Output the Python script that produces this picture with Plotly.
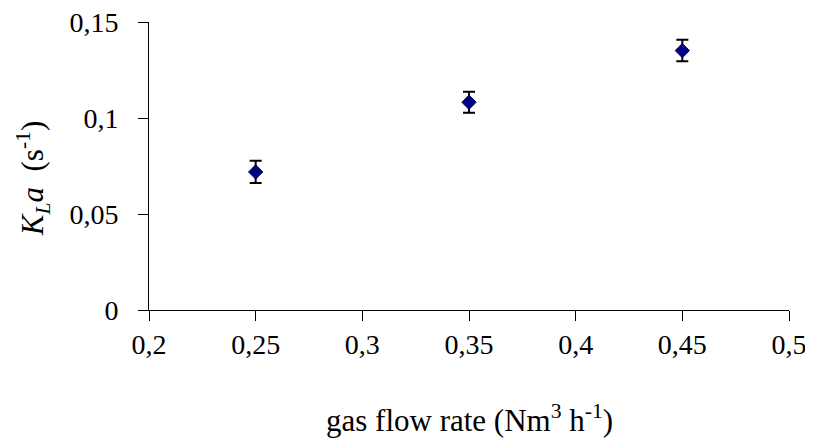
import plotly.graph_objects as go

gas_flow = [0.25, 0.35, 0.45]
kla = [0.0719, 0.1082, 0.1351]
kla_err = [0.0058, 0.0055, 0.0056]

x_tickvals = [0.2, 0.25, 0.3, 0.35, 0.4, 0.45, 0.5]
x_ticktext = ["0,2", "0,25", "0,3", "0,35", "0,4", "0,45", "0,5"]
y_tickvals = [0, 0.05, 0.1, 0.15]
y_ticktext = ["0", "0,05", "0,1", "0,15"]

FONT = "Liberation Serif"
TICK_SIZE = 28
TITLE_SIZE = 31

fig = go.Figure()
fig.add_trace(go.Scatter(
    x=gas_flow, y=kla, mode="markers",
    marker=dict(symbol="diamond", size=11, color="#000080",
                line=dict(color="#00005a", width=1)),
    error_y=dict(type="data", array=kla_err, visible=True,
                 color="black", thickness=2, width=6),
    showlegend=False,
))

axis_common = dict(showgrid=False, zeroline=False, showline=True, linecolor="black",
                   linewidth=1, ticks="outside", ticklen=10, tickcolor="black",
                   tickwidth=1, automargin=False, ticklabeloverflow="allow",
                   tickfont=dict(family=FONT, size=TICK_SIZE, color="black"))

fig.update_layout(
    width=805, height=434,
    margin=dict(l=141, r=24, t=14, b=132, pad=0),
    paper_bgcolor="white", plot_bgcolor="white",
    font=dict(family=FONT, size=TICK_SIZE, color="black"),
    xaxis=dict(range=[0.2, 0.5], tickvals=x_tickvals, ticktext=x_ticktext,
               ticklabelstandoff=-1, **axis_common),
    yaxis=dict(range=[0, 0.15], tickvals=y_tickvals, ticktext=y_ticktext,
               ticklabelstandoff=14, **axis_common),
    annotations=[
        dict(text="gas flow rate (Nm<sup>3</sup> h<sup>-1</sup>)",
             xref="paper", yref="paper", x=0.5, y=-0.375,
             xanchor="center", yanchor="middle", showarrow=False,
             font=dict(family=FONT, size=TITLE_SIZE)),
        dict(text="<i>K<sub>L</sub>a</i>  (s<sup>-1</sup>)",
             xref="paper", yref="paper", x=-0.181, y=0.458, textangle=-90,
             xanchor="center", yanchor="middle", showarrow=False,
             font=dict(family=FONT, size=TITLE_SIZE)),
    ],
)

fig.write_html("out.html")
